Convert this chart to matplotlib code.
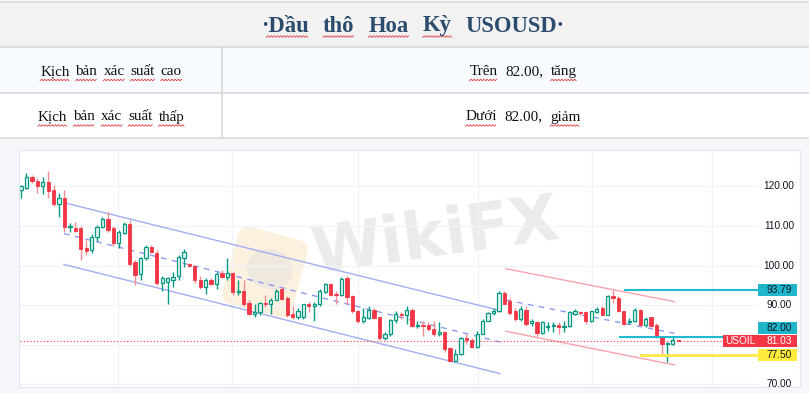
import matplotlib
matplotlib.use("Agg")
import matplotlib.pyplot as plt
import numpy as np
from matplotlib.patches import Rectangle, FancyBboxPatch, Ellipse
from matplotlib.transforms import blended_transform_factory, Affine2D

# ---------------- data ----------------
title_words = ["·Dầu", "thô", "Hoa", "Kỳ", "USOUSD·"]
row1_left = ["Kịch", "bản", "xác", "suất", "cao"]
row1_right = ["Trên", "82.00,", "tăng"]
row2_left = ["Kịch", "bản", "xác", "suất", "thấp"]
row2_right = ["Dưới", "82.00,", "giảm"]

opens = [119.0, 119.7, 122.3, 121.5, 120.2, 121.1, 119.1, 115.6, 117.0, 109.8,
         109.4, 109.4, 104.5, 103.9, 107.3, 109.8, 111.9, 109.4, 105.6, 108.3,
         110.4, 100.8, 98.0, 101.9, 104.6, 103.1, 95.5, 95.8, 96.3, 97.3,
         101.8, 100.3, 99.8, 96.3, 94.6, 96.3, 95.4, 98.1, 97.1, 98.1,
         93.3, 93.5, 90.5, 87.8, 88.2, 90.5, 90.4, 91.4, 94.2, 91.9,
         87.8, 87.0, 87.0, 90.2, 89.9, 90.2, 93.3, 95.3, 92.9, 92.5,
         96.9, 92.3, 88.5, 85.9, 86.8, 88.8, 86.9, 81.6, 82.6, 86.2,
         87.8, 87.4, 88.8, 84.8, 85.1, 85.0, 84.0, 82.7, 83.3, 79.2,
         76.0, 77.7, 81.7, 81.3, 79.4, 82.8, 86.0, 88.0, 88.6, 93.0,
         91.0, 88.5, 86.5, 88.8, 85.6, 85.7, 82.9, 84.4, 84.8, 85.1,
         84.4, 84.8, 87.8, 88.4, 88.2, 86.1, 88.2, 89.2, 87.6, 92.2,
         91.8, 88.5, 85.7, 85.9, 88.8, 85.0, 86.9, 85.1, 82.1, 80.1,
         80.3, 81.1]
highs = [120.4, 123.3, 123.0, 122.2, 122.5, 123.8, 120.4, 118.3, 119.1, 110.7,
         111.0, 110.0, 106.4, 108.0, 110.2, 112.3, 113.6, 110.0, 109.0, 110.9,
         111.5, 101.4, 102.2, 105.2, 105.2, 103.9, 97.5, 97.0, 98.4, 102.6,
         104.3, 100.6, 100.1, 97.5, 96.8, 96.8, 98.4, 98.8, 101.8, 98.4,
         96.3, 96.3, 91.4, 90.4, 90.8, 92.5, 91.8, 94.0, 94.5, 92.2,
         89.9, 89.2, 90.4, 90.8, 90.7, 94.2, 95.5, 95.5, 93.5, 97.0,
         97.5, 92.7, 88.9, 89.2, 89.9, 89.2, 87.1, 83.3, 86.6, 88.6,
         88.4, 89.9, 89.2, 86.1, 86.1, 85.7, 86.1, 85.7, 83.6, 79.5,
         79.0, 82.0, 82.8, 81.8, 83.6, 86.6, 88.4, 89.2, 93.7, 93.7,
         91.7, 89.2, 89.9, 89.7, 86.6, 86.1, 85.9, 85.7, 85.7, 85.7,
         86.1, 88.6, 89.1, 88.6, 88.5, 88.6, 89.5, 89.7, 92.7, 93.8,
         92.2, 88.6, 86.8, 89.3, 89.1, 87.1, 87.1, 85.4, 82.3, 80.6,
         82.1, 81.2]
lows = [117.0, 119.3, 121.0, 118.3, 118.0, 117.0, 115.0, 112.3, 108.5, 108.5,
        108.5, 101.5, 102.6, 103.1, 106.2, 109.6, 108.5, 104.9, 104.5, 108.0,
        100.0, 95.2, 96.4, 101.5, 103.1, 95.0, 93.7, 90.4, 94.6, 96.3,
        99.6, 99.6, 95.5, 94.2, 92.9, 95.0, 94.2, 96.8, 96.3, 92.5,
        92.5, 89.9, 87.4, 87.0, 87.4, 89.5, 87.8, 91.2, 91.2, 87.0,
        86.6, 86.4, 86.6, 88.2, 86.1, 89.9, 93.2, 92.2, 90.4, 92.2,
        90.4, 88.1, 85.6, 85.6, 86.6, 86.5, 81.2, 81.2, 82.3, 85.6,
        86.6, 85.3, 84.6, 84.3, 82.3, 83.6, 82.3, 82.3, 78.1, 75.8,
        75.8, 77.5, 80.2, 79.1, 79.3, 82.6, 85.9, 87.6, 88.4, 90.2,
        87.6, 86.1, 86.1, 84.8, 84.8, 82.3, 82.8, 83.6, 83.2, 82.6,
        83.2, 84.6, 87.4, 87.4, 85.3, 85.7, 88.0, 87.4, 87.4, 90.5,
        88.4, 85.1, 85.3, 85.7, 84.8, 84.6, 84.4, 81.8, 77.5, 75.7,
        80.0, 81.0]
closes = [120.0, 122.5, 121.4, 120.2, 121.1, 118.9, 115.7, 117.0, 109.8, 110.1,
          108.7, 104.1, 103.6, 107.3, 109.8, 111.9, 109.1, 105.6, 108.5, 110.4,
          100.5, 97.7, 101.8, 104.7, 103.4, 95.5, 96.8, 96.8, 97.2, 102.2,
          103.5, 99.8, 96.3, 94.6, 96.3, 95.4, 98.0, 97.1, 98.1, 93.3,
          93.7, 90.4, 87.8, 88.2, 90.5, 90.2, 91.4, 93.5, 91.6, 87.4,
          87.0, 88.6, 90.2, 89.8, 90.4, 93.7, 95.3, 92.5, 92.6, 96.7,
          92.0, 88.5, 85.9, 87.0, 88.8, 86.8, 81.6, 82.6, 86.2, 87.8,
          87.4, 88.8, 84.8, 85.1, 84.8, 84.0, 82.7, 83.3, 79.0, 76.0,
          77.7, 81.7, 81.3, 79.4, 82.8, 86.0, 88.0, 88.6, 93.0, 90.4,
          88.0, 86.5, 89.1, 85.3, 85.8, 82.9, 85.7, 84.8, 85.0, 84.4,
          84.8, 88.2, 88.5, 88.0, 86.1, 88.5, 89.1, 87.6, 92.2, 91.9,
          88.6, 85.3, 86.1, 88.8, 85.1, 86.5, 84.8, 82.1, 80.1, 80.4,
          81.3, 81.03]

# trend channels: (bar index, price) pairs
blue_upper = [(7.9, 115.9), (88.2, 88.65)]
blue_lower = [(7.9, 100.3), (88.2, 72.7)]
blue_mid = [(7.9, 108.1), (88.2, 80.7)]
red_upper = [(89.3, 99.2), (120.3, 90.9)]
red_lower = [(89.3, 83.4), (120.3, 74.9)]
red_mid = [(89.3, 91.3), (120.3, 82.9)]

# key levels: (price, start bar index)
level_resist = (93.79, 111.2)
level_pivot = (82.00, 110.3)
level_support = (77.50, 114.2)
last_price = 81.03
symbol = "USOIL"

price_ticks = [70, 80, 90, 100, 110, 120, 130]
time_grid = [17.9, 38.9, 62.1, 84.2, 105.2, 127.3]

# ---------------- figure ----------------
W, H = 809, 393
fig = plt.figure(figsize=(W / 100, H / 100), dpi=100)
fig.patch.set_facecolor("#f5f7fb")
bg = fig.add_axes([0, 0, 1, 1])
bg.set_xlim(0, W)
bg.set_ylim(H, 0)
bg.axis("off")

# table
bg.add_patch(Rectangle((0, 1.5), W, 45.5, fc="#f2f2f2", ec="none"))
bg.add_patch(Rectangle((0, 47), W, 46, fc="#f7fbff", ec="none"))
bg.add_patch(Rectangle((0, 93), W, 45, fc="#ffffff", ec="none"))
for yy in [1.5, 47, 93, 138]:
    bg.plot([0, W], [yy, yy], color="#d9d9d9", lw=1.2)
bg.plot([222, 222], [47, 138], color="#d9d9d9", lw=1.2)

renderer = fig.canvas.get_renderer()
serif = ["Liberation Serif", "DejaVu Serif"]


def word_line(words, cx, base_y, size, gap, weight, color, squig, squig_y, first_skip=0):
    objs = [bg.text(0, base_y, w, fontsize=size, family=serif, fontweight=weight,
                    color=color, ha="left", va="baseline") for w in words]
    widths = [t.get_window_extent(renderer).width for t in objs]
    total = sum(widths) + gap * (len(words) - 1)
    x = cx - total / 2
    for k, (t, w) in enumerate(zip(objs, widths)):
        t.set_x(x)
        if squig[k]:
            x0 = x + (first_skip if k == 0 else 0)
            xs = np.arange(x0, x + w, 1.6)
            ys = squig_y + np.where(np.arange(len(xs)) % 2 == 0, 0.8, -0.8)
            bg.plot(xs, ys, color="#e04040", lw=0.6)
        x += w + gap


word_line(title_words, 413, 31.5, 16.3, 14, "bold", "#2b4c6d",
          [1, 1, 1, 1, 0], 36.5, first_skip=5)
word_line(row1_left, 111, 75, 10.9, 6, "normal", "#111111", [1] * 5, 80)
word_line(row1_right, 523, 75, 10.9, 7.5, "normal", "#111111", [1, 0, 1], 80)
word_line(row2_left, 111, 120.5, 10.9, 6, "normal", "#111111", [1] * 5, 125.5)
word_line(row2_right, 523, 120.5, 10.9, 7.5, "normal", "#111111", [1, 0, 1], 125.5)

# chart panel
bg.add_patch(Rectangle((19.5, 149.5), 780.5, 237.5, fc="white", ec="#e3e6ee", lw=0.8))

# watermark logo (pale) behind candles
cx, cy = 265, 272
logo = FancyBboxPatch((cx - 36, cy - 40), 72, 80, boxstyle="round,pad=0,rounding_size=12",
                      fc="#fcefdc", ec="none", alpha=0.9)
logo.set_transform(Affine2D().rotate_deg_around(cx, cy, 15) + bg.transData)
bg.add_patch(logo)
blob = Ellipse((cx + 4, cy - 4), 46, 40, fc="#ece6de", ec="none", alpha=0.8)
blob.set_transform(Affine2D().rotate_deg_around(cx, cy, 15) + bg.transData)
bg.add_patch(blob)
bg.text(435, 238, "WikiFX", fontsize=46, fontweight="bold", color="#ebebeb",
        ha="center", va="center", rotation=8, family="DejaVu Sans")

# ---------------- price chart ----------------
left_px, right_px, top_px, bot_px = 19.5, 758, 149.5, 387
ax = fig.add_axes([left_px / W, (H - bot_px) / H, (right_px - left_px) / W, (bot_px - top_px) / H])
ax.set_facecolor("none")
ax.set_xlim(-0.28, 135.7)
ax.set_ylim(69.32, 129.35)
for s in ax.spines.values():
    s.set_visible(False)
ax.set_xticks([])
ax.set_yticks([])

for v in price_ticks:
    ax.axhline(v, color="#f0f3fa", lw=0.9, zorder=0)
for t in time_grid:
    ax.axvline(t, color="#f0f3fa", lw=0.9, zorder=0)

green, red = "#089981", "#f23645"
bw = 0.6
for i, (o, h, l, c) in enumerate(zip(opens, highs, lows, closes)):
    up = c >= o
    ax.vlines(i, l, h, color=green if up else "#f48a93", lw=1.0, zorder=2)
    lo, hgt = min(o, c), max(abs(c - o), 0.28)
    if up:
        ax.add_patch(Rectangle((i - bw / 2, lo), bw, hgt, fc="#e2f4ef", ec=green, lw=0.9, zorder=3))
    else:
        ax.add_patch(Rectangle((i - bw / 2, lo), bw, hgt, fc=red, ec=red, lw=0.6, zorder=3))

def seg(pts, **kw):
    ax.plot([p[0] for p in pts], [p[1] for p in pts], **kw)

seg(blue_upper, color="#a3adf2", lw=1.0, zorder=1.5)
seg(blue_lower, color="#a3adf2", lw=1.0, zorder=1.5)
seg(blue_mid, color="#8e9aee", lw=1.0, ls=(0, (4, 4)), zorder=1.5)
seg(red_upper, color="#f5a3ad", lw=1.0, zorder=1.5)
seg(red_lower, color="#f5a3ad", lw=1.0, zorder=1.5)
seg(red_mid, color="#8e9aee", lw=1.0, ls=(0, (4, 4)), zorder=1.5)

xr = 135.7
ax.plot([level_resist[1], xr], [level_resist[0]] * 2, color="#22b8cf", lw=1.5, zorder=4)
ax.plot([level_pivot[1], xr], [level_pivot[0]] * 2, color="#22b8cf", lw=1.5, zorder=4)
ax.plot([level_support[1], xr], [level_support[0]] * 2, color="#ffe84a", lw=2.0, zorder=4)

usoil_x0 = 129.2
ax.plot([-0.28, usoil_x0], [last_price] * 2, color=red, lw=0.8, ls=(0, (1, 2)), zorder=1.6)

# price scale
pax = fig.add_axes([right_px / W, (H - bot_px) / H, 42 / W, (bot_px - top_px) / H], sharey=ax)
pax.set_facecolor("none")
pax.axis("off")
ptr = blended_transform_factory(pax.transAxes, pax.transData)

px_per_unit = (bot_px - top_px) / (129.35 - 69.32)
box_h = 11.8 / px_per_unit

pivot_label_y = level_pivot[0]
if abs(pivot_label_y - last_price) < box_h:
    pivot_label_y = last_price + box_h + 1.2 / px_per_unit
box_centres = [level_resist[0], last_price, pivot_label_y, level_support[0]]

# tick labels (those hidden behind a price box are not drawn, as in the reference)
for v in price_ticks:
    if any(abs(v - b) < box_h * 0.95 for b in box_centres):
        continue
    pax.text(0.5, v, f"{v:.2f}", transform=ptr, ha="center", va="center",
             fontsize=7.3, family="Liberation Sans", color="#131722", clip_on=True)


def pbox(price, text, fc, tc):
    pax.add_patch(Rectangle((0.008, price - box_h / 2), 0.91, box_h, transform=ptr,
                            fc=fc, ec="none", zorder=5))
    pax.text(0.5, price, text, transform=ptr, ha="center", va="center", fontsize=7.3,
             family="Liberation Sans", color=tc, zorder=6)

pbox(level_resist[0], f"{level_resist[0]:.2f}", "#1fb6cc", "#131722")
pbox(last_price, f"{last_price:.2f}", red, "white")
pbox(pivot_label_y, f"{level_pivot[0]:.2f}", "#1fb6cc", "#131722")
pbox(level_support[0], f"{level_support[0]:.2f}", "#ffeb3b", "#131722")

ax.add_patch(Rectangle((usoil_x0, last_price - box_h / 2), xr - usoil_x0 - 0.05, box_h,
                       fc=red, ec="none", zorder=5, clip_on=False))
ax.text((usoil_x0 + xr) / 2, last_price, symbol, ha="center", va="center", fontsize=7.3,
        family="Liberation Sans", color="white", zorder=6)

fig.savefig("out.png", dpi=100, facecolor=fig.get_facecolor())
